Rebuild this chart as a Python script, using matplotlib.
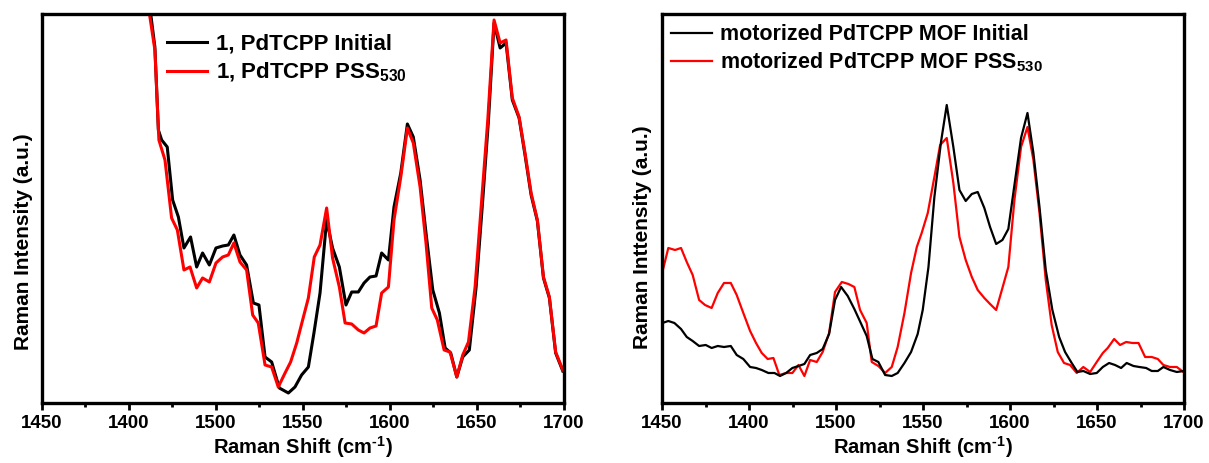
"""
Raman spectra: 1, PdTCPP vs motorized PdTCPP MOF (Initial / PSS530)
"""

import matplotlib
matplotlib.use('Agg')
import matplotlib.pyplot as plt

plt.rcParams['font.family'] = ['Liberation Sans', 'DejaVu Sans']
plt.rcParams['font.weight'] = 'bold'
plt.rcParams['mathtext.fontset'] = 'custom'
plt.rcParams['mathtext.rm'] = 'Liberation Sans:bold'
plt.rcParams['mathtext.it'] = 'Liberation Sans:bold'
plt.rcParams['mathtext.bf'] = 'Liberation Sans:bold'

# ==========================================
# DATOS - panel izquierdo (1, PdTCPP)
# ==========================================
left_x_black = [1458.1, 1461.7, 1464.9, 1466.9, 1468.8, 1472.0, 1475.1, 1478.4,
                1481.6, 1485.4, 1488.9, 1492.3, 1496.2, 1500.0, 1503.8, 1507.1,
                1510.3, 1513.8, 1517.6, 1521.5, 1524.7, 1528.2, 1532.0, 1536.4,
                1541.6, 1545.4, 1549.2, 1553.1, 1556.3, 1559.8, 1563.6, 1567.0,
                1570.9, 1574.7, 1578.0, 1581.8, 1585.1, 1588.5, 1592.0, 1595.2,
                1599.1, 1602.3, 1606.2, 1610.0, 1613.4, 1617.3, 1620.7, 1624.6,
                1628.4, 1631.7, 1634.9, 1638.4, 1641.8, 1645.6, 1649.5, 1653.3,
                1656.6, 1659.8, 1663.3, 1666.7, 1670.3, 1674.2, 1677.6, 1681.1,
                1684.7, 1688.2, 1691.6, 1695.2, 1699.3]
left_y_black = [475, 400, 356, 273, 263, 256, 203, 186,
                155, 166, 136, 150, 138, 155, 157, 158,
                168, 148, 138, 100, 98, 46, 41, 15,
                10, 16, 28, 36, 70, 110, 183, 155,
                136, 98, 111, 111, 120, 126, 127, 150,
                143, 196, 230, 279, 266, 223, 170, 113,
                90, 55, 50, 26, 46, 53, 116, 203,
                283, 380, 355, 360, 303, 285, 248, 208,
                182, 125, 105, 50, 32]

left_x_red = [1458.1, 1461.7, 1464.9, 1467.2, 1470.7, 1474.5, 1477.8, 1481.6,
              1485.1, 1488.9, 1492.3, 1496.2, 1500.0, 1503.8, 1507.1, 1510.3,
              1513.8, 1517.6, 1521.1, 1524.3, 1528.2, 1532.0, 1535.8, 1539.7,
              1542.9, 1546.4, 1549.8, 1553.1, 1556.5, 1559.8, 1563.6, 1567.0,
              1570.9, 1574.2, 1578.0, 1581.8, 1585.1, 1588.5, 1592.0, 1595.2,
              1599.1, 1602.3, 1606.2, 1610.0, 1613.4, 1617.3, 1620.7, 1624.0,
              1627.2, 1631.1, 1634.5, 1638.4, 1641.8, 1645.1, 1648.9, 1652.7,
              1656.2, 1659.8, 1663.3, 1666.7, 1670.3, 1674.2, 1677.6, 1681.1,
              1684.7, 1688.2, 1691.6, 1695.2, 1699.3]
left_y_red = [470, 390, 353, 263, 243, 185, 173, 133,
              136, 115, 125, 121, 140, 146, 148, 160,
              141, 133, 88, 80, 38, 36, 16, 30,
              41, 60, 83, 105, 146, 158, 195, 145,
              116, 80, 79, 73, 70, 75, 77, 110,
              116, 183, 226, 275, 260, 216, 160, 95,
              83, 53, 51, 26, 48, 61, 116, 203,
              283, 383, 360, 363, 305, 286, 250, 210,
              183, 126, 106, 51, 33]

# ==========================================
# DATOS - panel derecho (motorized PdTCPP MOF)
# ==========================================
right_x_black = [1400.2, 1403.6, 1407.1, 1410.9, 1414.2, 1417.6, 1421.3, 1425.1,
                 1428.5, 1432.0, 1435.6, 1439.5, 1442.9, 1446.7, 1450.6, 1454.0,
                 1457.3, 1461.1, 1464.6, 1467.8, 1471.3, 1474.9, 1478.4, 1481.8,
                 1485.1, 1488.9, 1492.3, 1496.0, 1499.4, 1502.9, 1506.7, 1510.5,
                 1514.2, 1517.6, 1520.9, 1524.3, 1528.2, 1532.0, 1535.4, 1539.3,
                 1543.1, 1546.9, 1549.8, 1553.1, 1556.5, 1560.3, 1563.6, 1567.4,
                 1570.9, 1574.5, 1578.0, 1581.4, 1585.2, 1588.5, 1592.0, 1595.6,
                 1599.0, 1602.5, 1606.3, 1610.0, 1613.4, 1616.9, 1620.5, 1624.3,
                 1628.2, 1631.6, 1635.4, 1638.7, 1642.1, 1646.0, 1649.8, 1653.3,
                 1656.9, 1660.3, 1663.8, 1667.0, 1670.9, 1674.3, 1678.2, 1681.4,
                 1684.9, 1688.1, 1691.9, 1695.8, 1700.0]
right_y_black = [80, 82, 80, 74, 66, 62, 57, 58,
                 55, 57, 56, 57, 48, 44, 36, 35,
                 33, 30, 30, 27, 30, 35, 37, 39,
                 48, 50, 54, 69, 103, 116, 107, 94,
                 80, 67, 44, 41, 28, 27, 30, 40,
                 51, 69, 93, 136, 206, 261, 298, 256,
                 213, 202, 209, 211, 195, 176, 159, 163,
                 174, 218, 265, 290, 250, 196, 133, 93,
                 66, 51, 40, 31, 32, 29, 30, 36,
                 40, 38, 35, 40, 37, 36, 35, 32,
                 32, 36, 33, 31, 32]

right_x_red = [1400.2, 1403.6, 1407.5, 1410.9, 1414.2, 1417.6, 1421.3, 1424.7,
               1428.5, 1432.0, 1435.6, 1439.5, 1442.9, 1446.7, 1450.6, 1454.0,
               1457.3, 1460.7, 1464.0, 1467.4, 1471.3, 1474.9, 1478.4, 1481.8,
               1485.1, 1488.9, 1492.3, 1496.0, 1499.4, 1503.3, 1507.1, 1510.5,
               1513.8, 1517.6, 1520.5, 1524.3, 1528.2, 1532.0, 1535.4, 1539.3,
               1543.1, 1546.4, 1549.2, 1552.7, 1556.5, 1559.8, 1563.6, 1567.4,
               1570.9, 1574.5, 1578.0, 1581.4, 1585.2, 1588.5, 1592.0, 1595.6,
               1599.0, 1602.5, 1606.3, 1610.0, 1613.4, 1616.9, 1620.5, 1623.9,
               1627.4, 1631.0, 1634.5, 1638.3, 1642.1, 1646.0, 1649.8, 1653.3,
               1656.1, 1659.8, 1663.2, 1666.7, 1670.3, 1673.8, 1677.6, 1681.4,
               1684.9, 1688.1, 1691.9, 1695.8, 1699.6]
right_y_red = [131, 155, 153, 155, 141, 128, 103, 98,
               95, 110, 120, 120, 108, 90, 72, 60,
               50, 44, 45, 28, 30, 30, 38, 27,
               43, 41, 51, 70, 111, 121, 119, 116,
               93, 80, 41, 37, 30, 36, 56, 90,
               130, 156, 170, 190, 226, 258, 265, 220,
               166, 143, 126, 113, 105, 99, 93, 115,
               136, 203, 256, 276, 243, 190, 123, 78,
               51, 40, 38, 30, 36, 31, 41, 50,
               55, 64, 58, 61, 60, 60, 46, 46,
               44, 38, 36, 36, 31]

tick_pos = [1400, 1450, 1500, 1550, 1600, 1650, 1700]
tick_labels = ['1450', '1400', '1500', '1550', '1600', '1650', '1700']

# ==========================================
# FIGURA
# ==========================================
fig = plt.figure(figsize=(12.09, 4.63), dpi=100)
ax1 = fig.add_axes([0.0347, 0.1296, 0.4318, 0.8402])
ax2 = fig.add_axes([0.5476, 0.1296, 0.4318, 0.8402])

l1, = ax1.plot(left_x_black, left_y_black, color='black', lw=2.2,
               label='1, PdTCPP Initial')
l2, = ax1.plot(left_x_red, left_y_red, color='red', lw=2.2,
               label=r'1, PdTCPP PSS$_{\mathregular{530}}$')

r2, = ax2.plot(right_x_red, right_y_red, color='red', lw=1.6,
               label=r'motorized PdTCPP MOF PSS$_{\mathregular{530}}$')
r1, = ax2.plot(right_x_black, right_y_black, color='black', lw=1.6,
               label='motorized PdTCPP MOF Initial')

for ax, ylab, lx, ly in [(ax1, 'Raman Intensity (a.u.)', -0.018, 0.414),
                         (ax2, 'Raman Inttensity (a.u.)', -0.019, 0.425)]:
    ax.set_xlim(1400, 1700)
    ax.set_ylim(0, 389)
    ax.set_xticks(tick_pos)
    ax.set_xticklabels(tick_labels)
    ax.set_xticks([1425, 1475, 1525, 1575, 1625, 1675], minor=True)
    ax.set_yticks([])
    ax.tick_params(axis='x', which='major', direction='out', length=5,
                   width=2, labelsize=13.5, pad=3.5)
    ax.tick_params(axis='x', which='minor', direction='out', length=3, width=2)
    for s in ax.spines.values():
        s.set_linewidth(2.4)
    ax.set_xlabel(r'Raman Shift (cm$^{\text{-1}}$)', fontsize=14.5,
                  fontweight='bold', labelpad=2)
    ax.set_ylabel(ylab, fontsize=15, fontweight='bold')
    ax.yaxis.set_label_coords(lx, ly)

ax1.legend(handles=[l1, l2], loc='upper left', bbox_to_anchor=(0.209, 0.99),
           frameon=False, fontsize=16, handlelength=1.8, handletextpad=0.4,
           labelspacing=0.3, borderaxespad=0.3)
ax2.legend(handles=[r1, r2], loc='upper left', bbox_to_anchor=(-0.012, 1.012),
           frameon=False, fontsize=15.5, handlelength=1.9, handletextpad=0.4,
           labelspacing=0.22, borderaxespad=0.3)

plt.savefig('out.png', dpi=100)
plt.close()
